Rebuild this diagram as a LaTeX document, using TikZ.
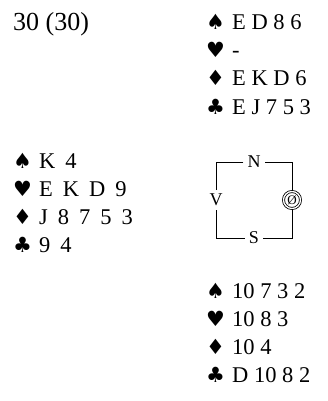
\documentclass[tikz,border=0pt]{standalone}
\usepackage{fontspec}
\setmainfont{Liberation Serif}
\newfontfamily\suitfont{DejaVu Sans}
\usetikzlibrary{calc}
\newcommand\widespaces{\spaceskip 10pt\relax}
\def\cardrow{\node[anchor=base west,inner sep=0pt,font=\fontsize{22.5}{26}\selectfont]}
\def\westrow{\node[anchor=base west,inner sep=0pt,font={\fontsize{22.5}{26}\selectfont\widespaces}]}
\def\seat{\node[inner sep=4pt,font=\fontsize{18}{20}\selectfont]}
\newcommand\suitsym[1]{\makebox[26pt][l]{\suitfont\fontsize{21}{24}\selectfont #1}}

\begin{document}
\begin{tikzpicture}[x=1pt,y=-1pt]
\useasboundingbox (0,0) rectangle (327,401);
\node[anchor=base west,inner sep=0pt,font=\fontsize{26}{30}\selectfont] (score) at (13,31) {30 (30)};

% North hand, rows 28 apart
\coordinate (north) at (206,30);
\cardrow (n1) at (north) {\suitsym{♠}E D 8 6};
\cardrow (n2) at ($ (north) + (0,28) $) {\suitsym{♥}-};
\cardrow (n3) at ($ (north) + (0,56) $) {\suitsym{♦}E K D 6};
\cardrow (n4) at ($ (north) + (0,84) $) {\suitsym{♣}E J 7 5 3};

% West hand
\coordinate (west) at (13,168);
\westrow (w1) at (west) {\suitsym{♠}K 4};
\westrow (w2) at ($ (west) + (0,28) $) {\suitsym{♥}E K D 9};
\westrow (w3) at ($ (west) + (0,56) $) {\suitsym{♦}J 8 7 5 3};
\westrow (w4) at ($ (west) + (0,84) $) {\suitsym{♣}9 4};

% South hand
\coordinate (south) at (206,298);
\cardrow (s1) at (south) {\suitsym{♠}10 7 3 2};
\cardrow (s2) at ($ (south) + (0,28) $) {\suitsym{♥}10 8 3};
\cardrow (s3) at ($ (south) + (0,56) $) {\suitsym{♦}10 4};
\cardrow (s4) at ($ (south) + (0,84) $) {\suitsym{♣}D 10 8 2};

% The table, seats at the sides
\coordinate (table) at (254,200);
\seat (N) at ($ (table) + (0,-38) $) {N};
\seat (S) at ($ (table) + (0,38) $) {S};
\seat (V) at ($ (table) + (-38,0) $) {V};
\node[circle,draw,double,double distance=1.3pt,line width=0.8pt,minimum size=17pt,inner sep=0pt,font=\fontsize{13}{15}\selectfont] (O) at ($ (table) + (38,0) $) {Ø};
\draw[line width=0.9pt] (N.west) -| (V.north) (V.south) |- (S.west)
  (S.east) -| (O.south) (O.north) |- (N.east);
\end{tikzpicture}
\end{document}
